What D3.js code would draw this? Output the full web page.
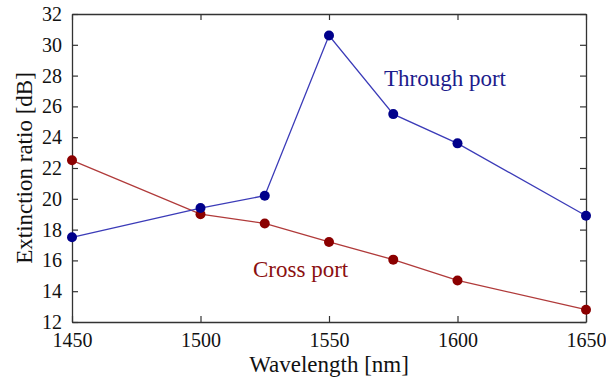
<!DOCTYPE html>
<html>
<head>
<script src="https://cdnjs.cloudflare.com/ajax/libs/d3/7.8.5/d3.min.js"></script>
<style>
  body { margin: 0; background: #fff; }
  svg text { font-family: "Liberation Serif", "Times New Roman", "DejaVu Serif", serif !important; }
</style>
</head>
<body>
<div id="chart"></div>
<script>
  var wavelength = [1450, 1500, 1525, 1550, 1575, 1600, 1650];
  var throughPort = [17.5, 19.4, 20.2, 30.6, 25.5, 23.6, 18.9];
  var crossPort = [22.5, 19.0, 18.4, 17.2, 16.05, 14.7, 12.8];
  var xTicks = [1450, 1500, 1550, 1600, 1650];
  var yTicks = [12, 14, 16, 18, 20, 22, 24, 26, 28, 30, 32];

  var W = 606, H = 382;
  var mLeft = 72, mRight = 586, mTop = 14, mBottom = 322;
  var serif = "'Liberation Serif', 'Times New Roman', serif";

  var svg = d3.select("#chart").append("svg")
    .attr("width", W).attr("height", H)
    .attr("font-family", serif);

  var x = d3.scaleLinear().domain([1450, 1650]).range([mLeft, mRight]);
  var y = d3.scaleLinear().domain([12, 32]).range([mBottom, mTop]);

  // inward ticks on all four sides
  svg.append("g").attr("transform", "translate(0," + mBottom + ")")
    .call(d3.axisBottom(x).tickValues(xTicks).tickSizeInner(-6).tickSizeOuter(0).tickPadding(11).tickFormat(d3.format("d")));
  svg.append("g").attr("transform", "translate(0," + mTop + ")")
    .call(d3.axisTop(x).tickValues(xTicks).tickSizeInner(-6).tickSizeOuter(0).tickFormat(""));
  svg.append("g").attr("transform", "translate(" + mLeft + ",0)")
    .call(d3.axisLeft(y).tickValues(yTicks).tickSizeInner(-6).tickSizeOuter(0).tickPadding(10));
  svg.append("g").attr("transform", "translate(" + mRight + ",0)")
    .call(d3.axisRight(y).tickValues(yTicks).tickSizeInner(-6).tickSizeOuter(0).tickFormat(""));

  svg.selectAll("g").attr("font-family", serif);
  svg.selectAll(".domain").attr("stroke", "#333").attr("stroke-width", 1.3);
  svg.selectAll(".tick line").attr("stroke", "#333").attr("stroke-width", 1.2);
  svg.selectAll(".tick text").attr("font-size", 20).attr("fill", "#111");

  function drawSeries(vals, lineColor, dotColor) {
    var pts = wavelength.map(function(w, i) { return [w, vals[i]]; });
    svg.append("path").datum(pts)
      .attr("fill", "none").attr("stroke", lineColor).attr("stroke-width", 1.3)
      .attr("d", d3.line().x(function(d) { return x(d[0]); }).y(function(d) { return y(d[1]); }));
    svg.selectAll(null).data(pts).enter().append("circle")
      .attr("cx", function(d) { return x(d[0]); })
      .attr("cy", function(d) { return y(d[1]); })
      .attr("r", 5)
      .attr("fill", dotColor);
  }

  drawSeries(crossPort, "#b03a3a", "#8b0000");
  drawSeries(throughPort, "#3b3bb8", "#00008b");

  svg.append("text").attr("x", 384).attr("y", 86)
    .attr("font-size", 23).attr("fill", "#1c1c8c").text("Through port");
  svg.append("text").attr("x", 253).attr("y", 277)
    .attr("font-size", 23).attr("fill", "#8b1010").text("Cross port");

  svg.append("text").attr("x", (mLeft + mRight) / 2).attr("y", 372)
    .attr("text-anchor", "middle").attr("font-size", 23).attr("fill", "#111")
    .text("Wavelength [nm]");
  svg.append("text").attr("transform", "translate(32," + ((mTop + mBottom) / 2) + ") rotate(-90)")
    .attr("text-anchor", "middle").attr("font-size", 23).attr("fill", "#111")
    .text("Extinction ratio [dB]");
</script>
</body>
</html>
